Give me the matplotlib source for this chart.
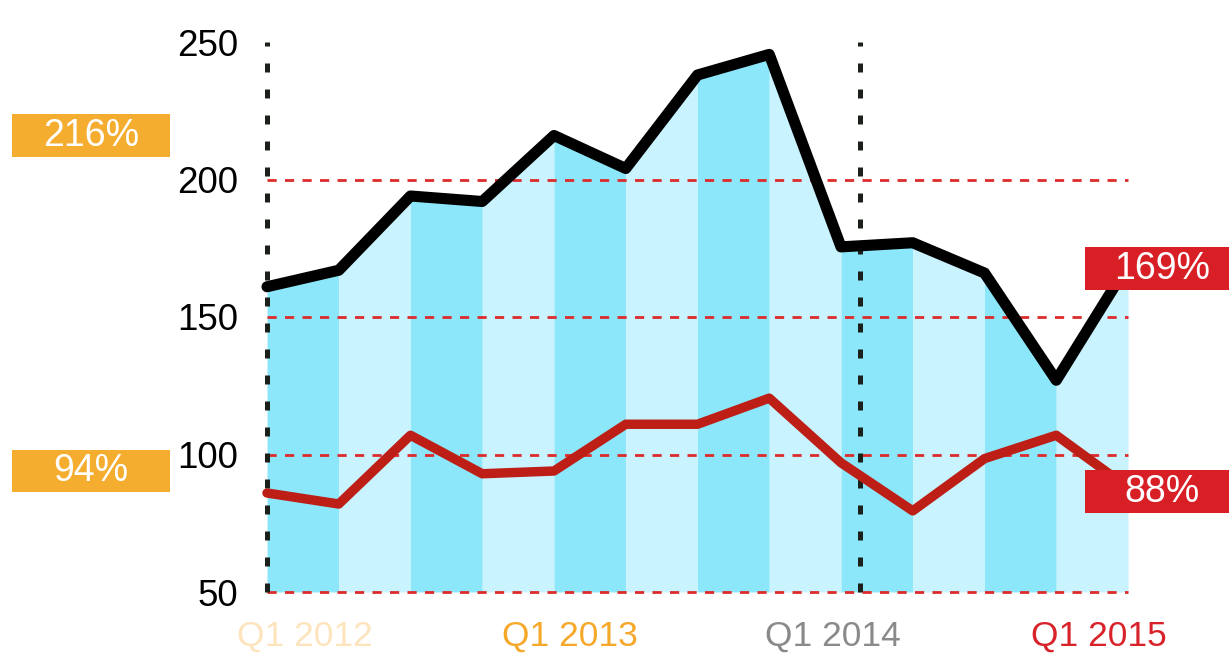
import matplotlib
matplotlib.use("Agg")
import matplotlib.pyplot as plt
import matplotlib.transforms as mtransforms
from matplotlib.patches import Rectangle

plt.rcParams['font.family'] = ['Liberation Sans', 'DejaVu Sans']

# quarterly data, Q1 2012 .. Q1 2015
quarters = list(range(13))
black_vals = [161, 167, 194, 192, 216, 204, 238, 245.5, 175.5, 177, 166, 127, 169]
red_vals = [86, 82, 107, 93, 94, 111, 111, 120.5, 97, 79.5, 98.5, 107, 88]

y_ticks = [50, 100, 150, 200, 250]
grid_vals = [50, 100, 150, 200]
x_labels = ['Q1 2012', 'Q1 2013', 'Q1 2014', 'Q1 2015']
x_label_pos = [0.53, 4.22, 7.89, 11.6]
x_label_colors = ['#fde4bd', '#f5a82a', '#8a8a8a', '#d8232a']
marker_x = [0, 8.27]

dark_stripe = '#8de7fa'
light_stripe = '#c9f3fe'

fig = plt.figure(figsize=(12.3, 6.57), dpi=100)
ax = fig.add_axes([267 / 1230, 65 / 657, 861 / 1230, 550 / 657])
ax.set_xlim(0, 12)
ax.set_ylim(50, 250)
for s in ax.spines.values():
    s.set_visible(False)

# striped area under the black line
for i in range(len(quarters) - 1):
    col = dark_stripe if i % 2 == 0 else light_stripe
    ax.fill_between(quarters[i:i + 2], 50, black_vals[i:i + 2],
                    color=col, linewidth=0, zorder=1)

# dashed red reference lines
for g in grid_vals:
    ax.plot([quarters[0], quarters[-1]], [g, g], color='#dd2a2a',
            linewidth=2, dashes=(3.3, 3), zorder=2, clip_on=False)

# dotted vertical markers
for mx in marker_x:
    ax.plot([mx, mx], [50, 250], color='#1b201b', linewidth=3.6,
            dashes=(1.8, 3.4), zorder=3, clip_on=False)

ax.plot(quarters, red_vals, color='#bd1f16', linewidth=6.8,
        solid_joinstyle='round', solid_capstyle='round', zorder=4, clip_on=False)
ax.plot(quarters, black_vals, color='black', linewidth=8,
        solid_joinstyle='round', solid_capstyle='round', zorder=5, clip_on=False)

ax.set_yticks(y_ticks)
ax.set_yticklabels([str(v) for v in y_ticks], fontsize=26.5, color='black')
ax.tick_params(axis='y', length=0, pad=21)
ax.set_xticks(x_label_pos)
ax.set_xticklabels(x_labels, fontsize=25.5)
ax.tick_params(axis='x', length=0, pad=20)
for lbl, c in zip(ax.get_xticklabels(), x_label_colors):
    lbl.set_color(c)

# value boxes (left: Q1 2013 values, right: latest values)
trans = mtransforms.blended_transform_factory(ax.transAxes, ax.transData)
box_h = 15.6
boxes = [
    (black_vals[4], -0.296, -0.113, '#f5ad2f', 0),
    (red_vals[4], -0.296, -0.113, '#f5ad2f', 0),
    (black_vals[-1], 0.95, 1.117, '#d81f26', -1.5),
    (red_vals[-1], 0.95, 1.117, '#d81f26', -1.6),
]
for val, x0, x1, col, dy in boxes:
    yc = val + dy
    ax.add_patch(Rectangle((x0, yc - box_h / 2), x1 - x0, box_h,
                           transform=trans, facecolor=col, edgecolor='none',
                           clip_on=False, zorder=6))
    tx = (x0 + x1) / 2 + (0.006 if x0 > 0 else 0)
    ax.text(tx, yc, f'{val:.0f}%', transform=trans,
            ha='center', va='center', color='white', fontsize=27, zorder=7,
            clip_on=False)

fig.savefig('out.png', dpi=100)
